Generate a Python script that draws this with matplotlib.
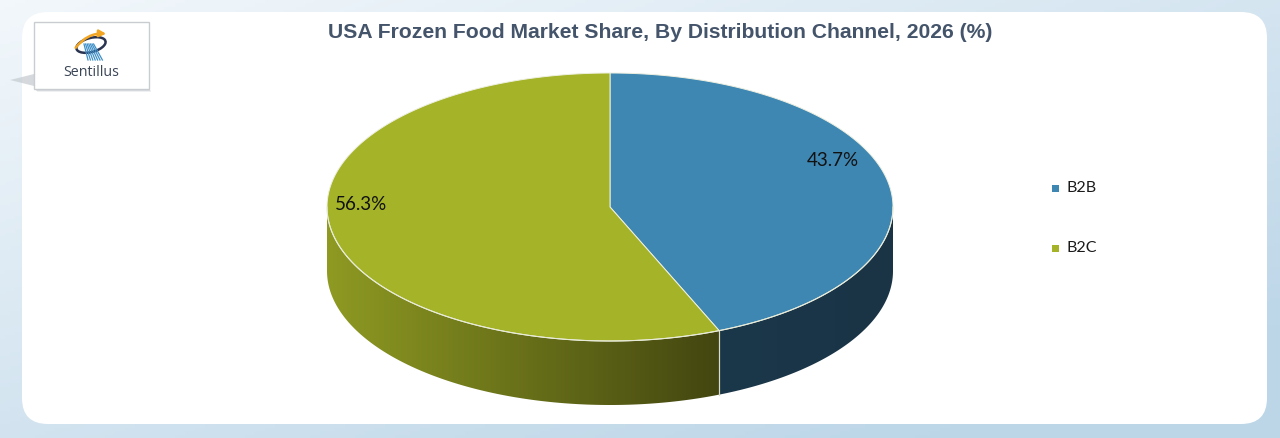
import numpy as np
import matplotlib
matplotlib.use("Agg")
import matplotlib.pyplot as plt
from matplotlib.patches import Polygon, FancyBboxPatch, Rectangle, Arc

# ---- data ----
categories = ["B2B", "B2C"]
shares = [43.7, 56.3]
label_texts = ["43.7%", "56.3%"]
title = "USA Frozen Food Market Share, By Distribution Channel, 2026 (%)"

top_colors = ["#3F87B3", "#A4B327"]
side_dark = ["#1A3446", "#434610"]
side_light = ["#1B374A", "#8E9A22"]

W, H = 1280, 438
fig = plt.figure(figsize=(W / 100, H / 100), dpi=100)
ax = fig.add_axes([0, 0, 1, 1])
ax.set_xlim(0, W)
ax.set_ylim(H, 0)
ax.axis("off")

# background gradient
gx = np.linspace(0, 1, 256)
gy = np.linspace(0, 1, 128)
GX, GY = np.meshgrid(gx, gy)
t = np.clip(0.55 * GX + 0.6 * GY, 0, 1)
c0 = np.array([0.95, 0.97, 0.985])
c1 = np.array([0.74, 0.84, 0.91])
img = c0[None, None, :] * (1 - t[..., None]) + c1[None, None, :] * t[..., None]
ax.imshow(img, extent=[0, W, H, 0], aspect="auto", zorder=0)

# white panel
panel = FancyBboxPatch((22, 12), 1245, 412, boxstyle="round,pad=0,rounding_size=26",
                       facecolor="white", edgecolor="none", zorder=1)
ax.add_patch(panel)

# logo box with shadow
for k, a in enumerate([0.35, 0.25, 0.15]):
    ax.add_patch(Rectangle((35 + k, 88 + k), 114, 2, facecolor="#9AA0A8", edgecolor="none",
                           alpha=a, zorder=2))
ax.add_patch(Polygon([[10, 80], [34, 74], [34, 86]], closed=True, facecolor="#C4CAD0",
                     edgecolor="none", alpha=0.7, zorder=2))
ax.add_patch(Rectangle((34, 22), 115, 67, facecolor="white", edgecolor="#C9CCD0", lw=1.0, zorder=3))
ax.add_patch(Arc((91, 45), 30, 14, angle=-15, theta1=0, theta2=360, color="#2A3350", lw=1.8, zorder=4))
for k in range(7):
    ax.plot([84 + k * 1.6, 88 + k * 2.4], [44, 60], color="#3E8FC8", lw=0.9, zorder=4)
ax.annotate("", xy=(109, 34), xytext=(74, 50),
            arrowprops=dict(arrowstyle="-|>", color="#F2A623", lw=1.8,
                            connectionstyle="arc3,rad=-0.3"), zorder=5)
ax.text(91, 72, "Sentillus", ha="center", va="center", fontsize=10.3,
        family="Open Sans", color="#3A4556", zorder=5)

# title
ax.text(660, 33, title, ha="center", va="center", fontsize=15.2, fontweight="bold",
        family="Liberation Sans", color="#44546A", zorder=5)

# ---- 3D pie geometry ----
cx, cy, rx, ry, depth = 610, 207, 283, 134, 64


def ept(a, dy=0.0):
    r = np.radians(a)
    return cx + rx * np.cos(r), cy - ry * np.sin(r) + dy


# slice angles: start at top, clockwise
fr = np.array(shares) / sum(shares)
starts = 90 - np.concatenate([[0], np.cumsum(fr)[:-1]]) * 360
ends = starts - fr * 360

# side walls (front half)
for i in range(len(shares)):
    lo, hi = ends[i], starts[i]
    segs = []
    for shift in (-360, 0, 360):
        s_lo, s_hi = max(lo + shift, -180), min(hi + shift, 0)
        if s_hi > s_lo:
            segs.append((s_lo, s_hi))
    for s_lo, s_hi in segs:
        aa = np.linspace(s_lo, s_hi, 120)
        topx, topy = ept(aa)
        botx, boty = ept(aa[::-1], depth)
        verts = np.column_stack([np.concatenate([topx, botx]), np.concatenate([topy, boty])])
        poly = Polygon(verts, closed=True, facecolor="none", edgecolor="none", zorder=6)
        ax.add_patch(poly)
        x0, x1 = verts[:, 0].min(), verts[:, 0].max()
        y0, y1 = verts[:, 1].min(), verts[:, 1].max()
        gl = np.linspace(0, 1, 256)
        cl = np.array(matplotlib.colors.to_rgb(side_light[i]))
        cd = np.array(matplotlib.colors.to_rgb(side_dark[i]))
        grad = cl[None, :] * (1 - gl[:, None]) + cd[None, :] * gl[:, None]
        im = ax.imshow(grad[None, :, :], extent=[x0, x1, y1, y0], aspect="auto", zorder=6)
        im.set_clip_path(poly)
        ax.plot(topx, topy, color="#E8EBD8", lw=0.8, zorder=8)

# slice boundary seams on side
for a in list(starts) + list(ends):
    if np.sin(np.radians(a)) < 0:
        px, py = ept(a)
        ax.plot([px, px], [py, py + depth], color="#D8DCC8", lw=0.8, zorder=8)

# top faces
for i in range(len(shares)):
    aa = np.linspace(starts[i], ends[i], 200)
    xs, ys = ept(aa)
    verts = np.column_stack([np.concatenate([[cx], xs]), np.concatenate([[cy], ys])])
    ax.add_patch(Polygon(verts, closed=True, facecolor=top_colors[i],
                         edgecolor="#EEF0E0", lw=0.7, zorder=7))

# data labels
label_pos = [(833, 160), (361, 204)]
for (lx, ly), txt in zip(label_pos, label_texts):
    ax.text(lx, ly, txt, ha="center", va="center", fontsize=13.5, family="Lato",
            color="#111111", zorder=9)

# legend
leg_y = [188, 248]
for yy, lab, col in zip(leg_y, categories, top_colors):
    ax.add_patch(Rectangle((1052, yy - 3.5), 7, 7, facecolor=col, edgecolor="none", zorder=9))
    ax.text(1066, yy, lab, ha="left", va="center", fontsize=11.5, family="Lato",
            color="#1A1A1A", zorder=9)

fig.savefig("out.png", dpi=100)
